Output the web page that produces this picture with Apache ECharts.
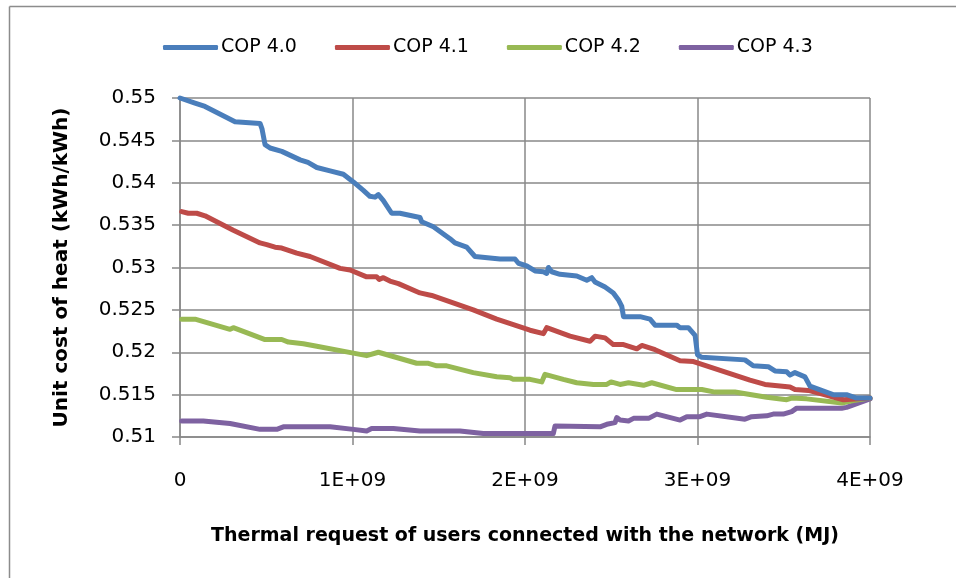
<!DOCTYPE html>
<html>
<head>
<meta charset="utf-8">
<title>Unit cost of heat</title>
<script src="https://cdn.jsdelivr.net/npm/echarts@6/dist/echarts.min.js"></script>
<style>
  html, body { margin: 0; padding: 0; background: #fff; }
  #chart { width: 956px; height: 578px; }
</style>
</head>
<body>
<div id="chart"></div>
<script>
// thermal request in units of 1E+09 MJ, unit cost in kWh/kWh
const seriesNames = ['COP 4.0', 'COP 4.1', 'COP 4.2', 'COP 4.3'];
const seriesColors = ['#4A7EBB', '#BE4B48', '#98B954', '#7E62A1'];
const xTicks = [0, 1, 2, 3, 4];

const cop40 = [
  [0, 0.55], [0.087, 0.5494], [0.145, 0.549], [0.319, 0.5472], [0.464, 0.547], [0.475, 0.5464],
  [0.493, 0.5445], [0.522, 0.5441], [0.59, 0.5437], [0.696, 0.5427], [0.742, 0.5424],
  [0.793, 0.5418], [0.87, 0.5414], [0.947, 0.541], [1.005, 0.5401], [1.063, 0.5391],
  [1.101, 0.5384], [1.13, 0.5383], [1.15, 0.5386], [1.179, 0.5379], [1.227, 0.5364],
  [1.275, 0.5364], [1.391, 0.5359], [1.401, 0.5354], [1.469, 0.5348], [1.565, 0.5334],
  [1.594, 0.5329], [1.662, 0.5324], [1.71, 0.5313], [1.855, 0.531], [1.942, 0.531],
  [1.962, 0.5305], [2.01, 0.5302], [2.058, 0.5296], [2.107, 0.5295], [2.126, 0.5293],
  [2.136, 0.53], [2.155, 0.5295], [2.203, 0.5292], [2.3, 0.529], [2.358, 0.5285],
  [2.387, 0.5288], [2.406, 0.5283], [2.464, 0.5277], [2.512, 0.527], [2.541, 0.5262],
  [2.561, 0.5254], [2.571, 0.5242], [2.667, 0.5242], [2.725, 0.5239], [2.754, 0.5232],
  [2.879, 0.5232], [2.899, 0.5229], [2.947, 0.5229], [2.986, 0.522], [3.0, 0.5197],
  [3.025, 0.5194], [3.275, 0.5191], [3.323, 0.5184], [3.41, 0.5183], [3.449, 0.5178],
  [3.517, 0.5177], [3.536, 0.5173], [3.565, 0.5176], [3.623, 0.5171], [3.652, 0.516],
  [3.786, 0.515], [3.864, 0.515], [3.922, 0.5146], [4.0, 0.5146]
];
const cop41 = [
  [0.01, 0.5366], [0.048, 0.5364], [0.097, 0.5364], [0.145, 0.5361], [0.309, 0.5344],
  [0.464, 0.5329], [0.503, 0.5327], [0.551, 0.5324], [0.59, 0.5323], [0.677, 0.5317],
  [0.754, 0.5313], [0.928, 0.5299], [0.986, 0.5297], [1.082, 0.5289], [1.14, 0.5289],
  [1.155, 0.5286], [1.179, 0.5288], [1.217, 0.5284], [1.266, 0.5281], [1.391, 0.527],
  [1.459, 0.5267], [1.7, 0.525], [1.836, 0.5239], [2.029, 0.5226], [2.107, 0.5222],
  [2.126, 0.5229], [2.261, 0.5219], [2.377, 0.5213], [2.406, 0.5219], [2.464, 0.5217],
  [2.512, 0.5209], [2.571, 0.5209], [2.648, 0.5204], [2.677, 0.5208], [2.754, 0.5203],
  [2.899, 0.519], [2.977, 0.5189], [3.304, 0.5167], [3.391, 0.5162], [3.536, 0.5159],
  [3.565, 0.5156], [3.643, 0.5155], [3.846, 0.5144], [4.0, 0.5146]
];
const cop42 = [
  [0.01, 0.5239], [0.087, 0.5239], [0.29, 0.5227], [0.309, 0.5229], [0.493, 0.5215],
  [0.59, 0.5215], [0.628, 0.5212], [0.715, 0.521], [0.793, 0.5207], [1.005, 0.5199],
  [1.082, 0.5196], [1.15, 0.52], [1.372, 0.5187], [1.44, 0.5187], [1.488, 0.5184],
  [1.546, 0.5184], [1.7, 0.5176], [1.836, 0.5171], [1.913, 0.517], [1.932, 0.5168],
  [2.029, 0.5168], [2.097, 0.5165], [2.116, 0.5174], [2.222, 0.5168], [2.3, 0.5164],
  [2.397, 0.5162], [2.474, 0.5162], [2.499, 0.5165], [2.551, 0.5162], [2.6, 0.5164],
  [2.687, 0.5161], [2.735, 0.5164], [2.879, 0.5156], [3.025, 0.5156], [3.101, 0.5153],
  [3.217, 0.5153], [3.401, 0.5147], [3.517, 0.5144], [3.546, 0.5146], [3.633, 0.5145],
  [3.836, 0.514], [3.904, 0.5143], [4.0, 0.5146]
];
const cop43 = [
  [0.01, 0.5119], [0.135, 0.5119], [0.29, 0.5116], [0.464, 0.5109], [0.561, 0.5109],
  [0.599, 0.5112], [0.87, 0.5112], [1.005, 0.5109], [1.082, 0.5107], [1.111, 0.511],
  [1.237, 0.511], [1.391, 0.5107], [1.623, 0.5107], [1.758, 0.5104], [2.164, 0.5104],
  [2.174, 0.5113], [2.435, 0.5112], [2.474, 0.5115], [2.522, 0.5117], [2.532, 0.5123],
  [2.551, 0.512], [2.6, 0.5119], [2.629, 0.5122], [2.716, 0.5122], [2.764, 0.5127],
  [2.899, 0.512], [2.938, 0.5124], [3.014, 0.5124], [3.054, 0.5127], [3.275, 0.5121],
  [3.314, 0.5124], [3.401, 0.5125], [3.439, 0.5127], [3.497, 0.5127], [3.546, 0.513],
  [3.575, 0.5134], [3.836, 0.5134], [3.864, 0.5135], [4.0, 0.5145]
];
const seriesData = [cop40, cop41, cop42, cop43];

const font = 'DejaVu Sans';
const gridColor = '#888888';

const chart = echarts.init(document.getElementById('chart'));
const option = {
  backgroundColor: '#fff',
  animation: false,
  graphic: [
    { type: 'line', shape: { x1: 9.5, y1: 6.5, x2: 956, y2: 6.5 }, style: { stroke: '#8c8c8c', lineWidth: 1.5 } },
    { type: 'line', shape: { x1: 9.5, y1: 6.5, x2: 9.5, y2: 578 }, style: { stroke: '#8c8c8c', lineWidth: 1.5 } }
  ],
  legend: {
    top: 33,
    left: 158,
    itemWidth: 55,
    itemHeight: 5,
    itemGap: 38,
    icon: 'roundRect',
    textStyle: { fontFamily: font, fontSize: 19, color: '#000', padding: [0, 0, 0, -2] },
    data: seriesNames
  },
  grid: { left: 180, right: 86, top: 98, bottom: 141 },
  xAxis: {
    type: 'value',
    min: 0,
    max: 4,
    interval: 1,
    name: 'Thermal request of users connected with the network (MJ)',
    nameLocation: 'middle',
    nameGap: 90,
    nameTextStyle: { fontFamily: font, fontSize: 19, fontWeight: 'bold', color: '#000' },
    axisLine: { show: true, lineStyle: { color: gridColor, width: 1.5 } },
    axisTick: { show: true, inside: false, length: 8, lineStyle: { color: gridColor, width: 1.5 } },
    axisLabel: {
      margin: 19,
      padding: [15, 0, 0, 0],
      fontFamily: font, fontSize: 20, color: '#000',
      formatter: v => (xTicks.includes(v) && v !== 0 ? v + 'E+09' : String(v))
    },
    splitLine: { show: true, lineStyle: { color: gridColor, width: 1.5 } }
  },
  yAxis: {
    type: 'value',
    min: 0.51,
    max: 0.55,
    interval: 0.005,
    name: 'Unit cost of heat (kWh/kWh)',
    nameLocation: 'middle',
    nameGap: 108,
    nameTextStyle: { fontFamily: font, fontSize: 20, fontWeight: 'bold', color: '#000' },
    axisLine: { show: true, lineStyle: { color: gridColor, width: 1.5 } },
    axisTick: { show: true, length: 8, lineStyle: { color: gridColor, width: 1.5 } },
    axisLabel: {
      margin: 24,
      fontFamily: font, fontSize: 20, color: '#000',
      formatter: v => String(parseFloat(v.toFixed(3)))
    },
    splitLine: { show: true, lineStyle: { color: gridColor, width: 1.5 } }
  },
  series: seriesNames.map((name, i) => ({
    name: name,
    type: 'line',
    data: seriesData[i],
    showSymbol: false,
    symbol: 'none',
    smooth: false,
    clip: false,
    color: seriesColors[i],
    lineStyle: { color: seriesColors[i], width: 5, join: 'round', cap: 'round' },
    z: 10 - i
  }))
};
chart.setOption(option);
</script>
</body>
</html>
